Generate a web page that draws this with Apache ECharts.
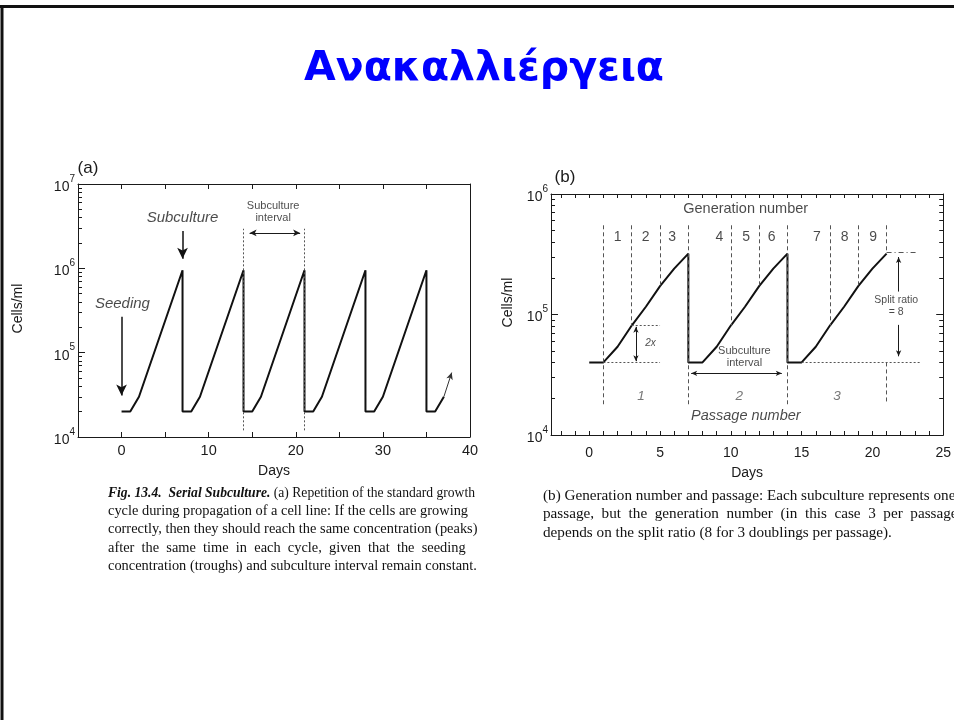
<!DOCTYPE html>
<html><head><meta charset="utf-8">
<script src="https://cdn.jsdelivr.net/npm/echarts@6/dist/echarts.min.js"></script>
<style>html,body{margin:0;padding:0;background:#fff}#c{width:954px;height:720px}</style>
</head><body><div id="c"></div>
<script>
// ================= DATA =================
const slideTitle = 'Ανακαλλιέργεια';

// ---- Panel (a): serial subculture, days vs cells/ml ----
const aDays  = [0, 1, 2, 7, 7, 8, 9, 14, 14, 15, 16, 21, 21, 22, 23, 28, 28, 29, 30, 35, 35, 36, 37];
const aCells = [2e4, 2e4, 3e4, 9.5e5, 2e4, 2e4, 3e4, 9.5e5, 2e4, 2e4, 3e4, 9.5e5, 2e4, 2e4, 3e4, 9.5e5, 2e4, 2e4, 3e4, 9.5e5, 2e4, 2e4, 3e4];
const aXLabelValues = [0, 10, 20, 30, 40];
const aXTickValues  = [-5, 0, 5, 10, 15, 20, 25, 30, 35, 40];
const aYLabelValues = [1e4, 1e5, 1e6, 1e7];
const aYMinorValues = [2e4,3e4,4e4,5e4,6e4,7e4,8e4,9e4, 2e5,3e5,4e5,5e5,6e5,7e5,8e5,9e5, 2e6,3e6,4e6,5e6,6e6,7e6,8e6,9e6];
// guide lines [from, to] in data units
const aDashedGuides = [[[14, 1.2e4], [14, 2.95e6]], [[21, 1.2e4], [21, 2.95e6]]];
const aDoubleArrows = [[[14.7, 2.63e6], [20.5, 2.63e6]]];
const aBoldArrows   = [[[7, 2.78e6], [7, 1.3e6]], [[0, 2.67e5], [0, 3.1e4]]];
const aThinArrows   = [[[37, 3e4], [37.9, 5.8e4]]];
// text notes
const aItalicNotes = ['Subculture', 'Seeding'];
const aItalicNoteX = [7, 0.1];
const aItalicNoteY = [4e6, 3.8e5];
const aSmallNotes  = ['Subculture\ninterval'];
const aSmallNoteX  = [17.4];
const aSmallNoteY  = [4.6e6];

// ---- Panel (b): generation number and passage ----
const bDays  = [0, 1, 2, 3, 4, 5, 6, 7, 7, 8, 9, 10, 11, 12, 13, 14, 14, 15, 16, 17, 18, 19, 20, 21];
const bCells = [4e4, 4e4, 5.4e4, 8.1e4, 1.16e5, 1.72e5, 2.4e5, 3.2e5, 4e4, 4e4, 5.4e4, 8.1e4, 1.16e5, 1.72e5, 2.4e5, 3.2e5, 4e4, 4e4, 5.4e4, 8.1e4, 1.16e5, 1.72e5, 2.4e5, 3.2e5];
const bXLabelValues = [0, 5, 10, 15, 20, 25];
const bXTickValues  = [-2,-1,0,1,2,3,4,5,6,7,8,9,10,11,12,13,14,15,16,17,18,19,20,21,22,23,24,25];
const bYLabelValues = [1e4, 1e5, 1e6];
const bYMinorValues = [2e4,3e4,4e4,5e4,6e4,7e4,8e4,9e4, 2e5,3e5,4e5,5e5,6e5,7e5,8e5,9e5];
const bDashedGuides = [
  [[1, 5.5e5], [1, 1.8e4]], [[3, 5.5e5], [3, 8.1e4]], [[5, 5.5e5], [5, 1.72e5]], [[7, 5.5e5], [7, 1.8e4]],
  [[10, 5.5e5], [10, 8.1e4]], [[12, 5.5e5], [12, 1.72e5]], [[14, 5.5e5], [14, 1.8e4]],
  [[17, 5.5e5], [17, 8.1e4]], [[19, 5.5e5], [19, 1.72e5]], [[21, 5.5e5], [21, 3.3e5]], [[21, 4e4], [21, 1.8e4]]
];
const bDottedGuides = [[[3, 8.1e4], [5, 8.1e4]], [[1, 4e4], [5, 4e4]], [[15, 4e4], [23.4, 4e4]]];
const bDashDotGuides = [[[21, 3.3e5], [23.1, 3.3e5]]];
const bDoubleArrows = [[[3.3, 4.1e4], [3.3, 7.9e4]], [[7.2, 3.25e4], [13.6, 3.25e4]]];
const bSingleArrows = [[[21.85, 1.55e5], [21.85, 3.0e5]], [[21.85, 8.2e4], [21.85, 4.5e4]]];
const bGenTitle = ['Generation number'];   const bGenTitleX = [11.05]; const bGenTitleY = [7.5e5];
const bGenNums  = ['1','2','3','4','5','6','7','8','9'];
const bGenNumX  = [2, 3.98, 5.85, 9.2, 11.08, 12.88, 16.07, 18.03, 20.06];
const bGenNumY  = [4.4e5, 4.4e5, 4.4e5, 4.4e5, 4.4e5, 4.4e5, 4.4e5, 4.4e5, 4.4e5];
const bPassNums = ['1','2','3'];           const bPassNumX = [3.66, 10.6, 17.5]; const bPassNumY = [2.08e4, 2.08e4, 2.08e4];
const bPassTitle = ['Passage number'];     const bPassTitleX = [11.06]; const bPassTitleY = [1.44e4];
const bTwoX = ['2x'];                      const bTwoXX = [4.33]; const bTwoXY = [5.8e4];
const bIntervalNote = ['Subculture\ninterval']; const bIntervalX = [10.96]; const bIntervalY = [4.4e4];
const bSplitNote = ['Split ratio\n= 8'];   const bSplitX = [21.68]; const bSplitY = [1.17e5];

// captions
const capA = [
  '{bi|Fig. 13.4.  Serial Subculture.} (a) Repetition of the standard growth',
  'cycle during propagation of a cell line: If the cells are growing',
  'correctly, then they should reach the same concentration (peaks)',
  'after  the  same  time  in  each  cycle,  given  that  the  seeding',
  'concentration (troughs) and subculture interval remain constant.'
];
const capB = [
  '(b) Generation number and passage: Each subculture represents one',
  'passage,  but  the  generation  number  (in  this  case  3  per  passage)',
  'depends on the split ratio (8 for 3 doublings per passage).'
];

// ================= CHART =================
const SANS = 'Liberation Sans';
const SERIF = 'Liberation Serif';
const INK = '#1a1a1a';
const chart = echarts.init(document.getElementById('c'), null, {renderer: 'canvas', width: 954, height: 720});

function zip(xs, ys) { return xs.map((x, i) => [x, ys[i]]); }
function supFmt(v) { return '{b|10}{s|' + Math.round(Math.log10(v)) + '}'; }
const supRich = {
  b: {fontSize: 14, lineHeight: 20, verticalAlign: 'bottom', fontFamily: SANS, color: INK},
  s: {fontSize: 10, lineHeight: 10, verticalAlign: 'top', fontFamily: SANS, color: INK}
};
function segs(list, sym0, sym1, lineStyle, size) {
  return list.map(s => [
    {coord: s[0], symbol: sym0, symbolSize: size, lineStyle: lineStyle},
    {coord: s[1], symbol: sym1, symbolSize: size}
  ]);
}
function textSeries(xi, yi, texts, xs, ys, lbl) {
  return {
    type: 'scatter', xAxisIndex: xi, yAxisIndex: yi, symbolSize: 0, silent: true, z: 6,
    itemStyle: {color: 'rgba(0,0,0,0)'},
    data: texts.map((t, i) => ({value: [xs[i], ys[i]], name: t})),
    label: Object.assign({show: true, position: 'inside', formatter: p => p.name, color: INK,
      fontFamily: SANS, align: 'center', textBorderWidth: 0, textBorderColor: 'transparent', textShadowBlur: 0}, lbl)
  };
}
function boxAxis(type, grid, pos, min, max, extra) {
  const base = {
    type: type, gridIndex: grid, position: pos, min: min, max: max,
    axisLine: {show: true, onZero: false, lineStyle: {color: INK, width: 1}},
    axisTick: {show: false}, axisLabel: {show: false}, splitLine: {show: false}
  };
  if (type === 'log') base.logBase = 10;
  return Object.assign(base, extra || {});
}
const hiddenLine = {show: false, onZero: false};

const xAxes = [
  // 0: (a) bottom
  boxAxis('value', 0, 'bottom', -5, 40, {
    name: 'Days', nameLocation: 'middle', nameGap: 27,
    nameTextStyle: {fontSize: 14, fontFamily: SANS, color: INK},
    axisTick: {show: true, inside: true, length: 5, customValues: aXTickValues, lineStyle: {color: INK}},
    axisLabel: {show: true, customValues: aXLabelValues, fontSize: 14.5, fontFamily: SANS, color: INK, margin: 6}
  }),
  // 1: (a) top
  boxAxis('value', 0, 'top', -5, 40, {
    axisTick: {show: true, inside: true, length: 5, customValues: aXTickValues, lineStyle: {color: INK}}
  }),
  // 2: (b) bottom
  boxAxis('value', 1, 'bottom', -2.7, 25, {
    name: 'Days', nameLocation: 'middle', nameGap: 31,
    nameTextStyle: {fontSize: 14, fontFamily: SANS, color: INK},
    axisTick: {show: true, inside: true, length: 4, customValues: bXTickValues, lineStyle: {color: INK}},
    axisLabel: {show: true, customValues: bXLabelValues, fontSize: 14, fontFamily: SANS, color: INK, margin: 11}
  }),
  // 3: (b) top
  boxAxis('value', 1, 'top', -2.7, 25, {
    axisTick: {show: true, inside: true, length: 4, customValues: bXTickValues, lineStyle: {color: INK}}
  })
];

const yAxes = [
  // 0: (a) left main
  boxAxis('log', 0, 'left', 1e4, 1e7, {
    name: 'Cells/ml', nameLocation: 'middle', nameGap: 53,
    nameTextStyle: {fontSize: 14, fontFamily: SANS, color: INK, padding: [0, 0, 0, 4]},
    axisTick: {show: true, inside: true, length: 7, customValues: aYLabelValues, lineStyle: {color: INK}},
    axisLabel: {show: true, customValues: aYLabelValues, formatter: supFmt, rich: supRich, margin: 3}
  }),
  // 1: (a) left minor ticks
  boxAxis('log', 0, 'left', 1e4, 1e7, {
    axisLine: hiddenLine,
    axisTick: {show: true, inside: true, length: 4, customValues: aYMinorValues, lineStyle: {color: INK}}
  }),
  // 2: (a) right frame
  boxAxis('log', 0, 'right', 1e4, 1e7),
  // 3: (b) left main
  boxAxis('log', 1, 'left', 1e4, 1e6, {
    name: 'Cells/ml', nameLocation: 'middle', nameGap: 36,
    nameTextStyle: {fontSize: 14, fontFamily: SANS, color: INK, padding: [0, 0, 0, 24]},
    axisTick: {show: true, inside: true, length: 7, customValues: bYLabelValues, lineStyle: {color: INK}},
    axisLabel: {show: true, customValues: bYLabelValues, formatter: supFmt, rich: supRich, margin: 3}
  }),
  // 4: (b) left minor
  boxAxis('log', 1, 'left', 1e4, 1e6, {
    axisLine: hiddenLine,
    axisTick: {show: true, inside: true, length: 4, customValues: bYMinorValues, lineStyle: {color: INK}}
  }),
  // 5: (b) right main
  boxAxis('log', 1, 'right', 1e4, 1e6, {
    axisTick: {show: true, inside: true, length: 7, customValues: bYLabelValues, lineStyle: {color: INK}}
  }),
  // 6: (b) right minor
  boxAxis('log', 1, 'right', 1e4, 1e6, {
    axisLine: hiddenLine,
    axisTick: {show: true, inside: true, length: 4, customValues: bYMinorValues, lineStyle: {color: INK}}
  })
];

const guideGray = '#555';
const seriesList = [
  {
    type: 'line', xAxisIndex: 0, yAxisIndex: 0, data: zip(aDays, aCells),
    symbol: 'none', lineStyle: {color: '#111', width: 2}, z: 4,
    markLine: {
      silent: true, animation: false, label: {show: false}, symbol: ['none', 'none'],
      lineStyle: {color: INK, width: 1, type: 'solid'},
      data: [].concat(
        segs(aDashedGuides, 'none', 'none', {color: guideGray, width: 1, type: [2, 2]}, 0),
        segs(aDoubleArrows, 'arrow', 'arrow', {color: INK, width: 1, type: 'solid'}, [5, 7]),
        segs(aBoldArrows, 'none', 'arrow', {color: '#111', width: 1.5, type: 'solid'}, [8, 11]),
        segs(aThinArrows, 'none', 'arrow', {color: '#333', width: 1, type: 'solid'}, [5, 7])
      )
    }
  },
  textSeries(0, 0, aItalicNotes, aItalicNoteX, aItalicNoteY, {fontSize: 15, fontStyle: 'italic'}),
  textSeries(0, 0, aSmallNotes, aSmallNoteX, aSmallNoteY, {fontSize: 11, lineHeight: 12}),
  {
    type: 'line', xAxisIndex: 2, yAxisIndex: 3, data: zip(bDays, bCells),
    symbol: 'none', lineStyle: {color: '#111', width: 2}, z: 4,
    markLine: {
      silent: true, animation: false, label: {show: false}, symbol: ['none', 'none'],
      lineStyle: {color: INK, width: 1, type: 'solid'},
      data: [].concat(
        segs(bDashedGuides, 'none', 'none', {color: guideGray, width: 1, type: [4, 3]}, 0),
        segs(bDottedGuides, 'none', 'none', {color: guideGray, width: 1, type: [2, 2]}, 0),
        segs(bDashDotGuides, 'none', 'none', {color: guideGray, width: 1, type: [5, 3, 1, 3]}, 0),
        segs(bDoubleArrows, 'arrow', 'arrow', {color: INK, width: 1, type: 'solid'}, [4, 6]),
        segs(bSingleArrows, 'none', 'arrow', {color: INK, width: 1, type: 'solid'}, [4, 6])
      )
    }
  },
  textSeries(2, 3, bGenTitle, bGenTitleX, bGenTitleY, {fontSize: 14.5}),
  textSeries(2, 3, bGenNums, bGenNumX, bGenNumY, {fontSize: 14}),
  textSeries(2, 3, bPassNums, bPassNumX, bPassNumY, {fontSize: 13.5, fontStyle: 'italic', color: '#555'}),
  textSeries(2, 3, bPassTitle, bPassTitleX, bPassTitleY, {fontSize: 14.5, fontStyle: 'italic'}),
  textSeries(2, 3, bTwoX, bTwoXX, bTwoXY, {fontSize: 10, fontStyle: 'italic'}),
  textSeries(2, 3, bIntervalNote, bIntervalX, bIntervalY, {fontSize: 11, lineHeight: 12}),
  textSeries(2, 3, bSplitNote, bSplitX, bSplitY, {fontSize: 10.5, lineHeight: 12.5})
];

// caption lines; the first line of (a) is set a touch smaller to keep the column width
const capText = (lines, x, y0, dy, size, firstSize) => lines.map((t, i) => {
  const s = i === 0 && firstSize ? firstSize : size;
  return {
    type: 'text', x: x, y: y0 + i * dy, silent: true,
    style: {
      text: t, fontFamily: SERIF, fontSize: s, fill: '#111', textVerticalAlign: 'middle',
      rich: {bi: {fontFamily: SERIF, fontSize: s, fontWeight: 'bold', fontStyle: 'italic', fill: '#111'}}
    }
  };
});

const option = {
  animation: false,
  backgroundColor: '#ffffff',
  textStyle: {fontFamily: SANS},
  title: {
    text: slideTitle, left: 479, textAlign: 'center', top: 44,
    textStyle: {fontFamily: 'DejaVu Sans', fontSize: 41, fontWeight: 'bold', color: '#0000ff', lineHeight: 40}
  },
  grid: [
    {left: 78, top: 184, width: 392, height: 253},
    {left: 551, top: 194, width: 398, height: 241}
  ],
  xAxis: xAxes,
  yAxis: yAxes,
  series: seriesList,
  graphic: [
    {type: 'line', silent: true, shape: {x1: 0, y1: 6.5, x2: 954, y2: 6.5}, style: {stroke: '#111', lineWidth: 3}},
    {type: 'line', silent: true, shape: {x1: 2, y1: 5, x2: 2, y2: 720}, style: {stroke: '#111', lineWidth: 3}},
    {type: 'text', x: 88, y: 168, silent: true, style: {text: '(a)', fontFamily: SANS, fontSize: 17, fill: INK, textAlign: 'center', textVerticalAlign: 'middle'}},
    {type: 'text', x: 565, y: 177, silent: true, style: {text: '(b)', fontFamily: SANS, fontSize: 17, fill: INK, textAlign: 'center', textVerticalAlign: 'middle'}}
  ].concat(capText(capA, 108, 493, 18.3, 14.4, 13.6), capText(capB, 543, 496, 18.5, 15.2))
};
chart.setOption(option);
</script>
</body></html>
